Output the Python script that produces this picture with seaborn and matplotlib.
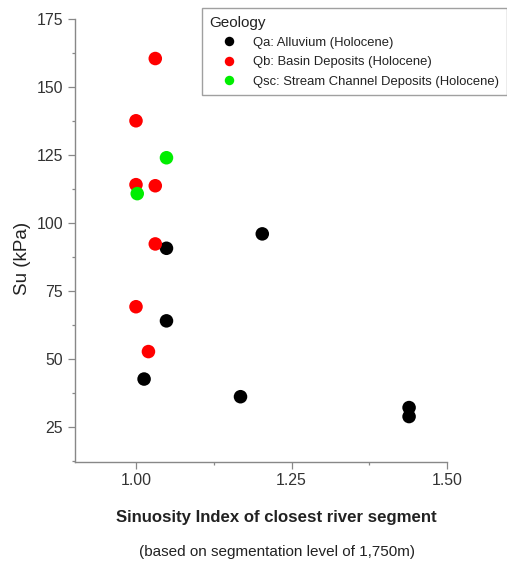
import matplotlib
matplotlib.use("Agg")
import matplotlib.pyplot as plt
from matplotlib.ticker import MultipleLocator, FormatStrFormatter
import seaborn as sns
import pandas as pd

# Sinuosity index and undrained shear strength per geologic unit
qa_si = [1.049, 1.203, 1.049, 1.013, 1.168, 1.439, 1.439]
qa_su = [90.7, 96.0, 64.0, 42.6, 36.1, 32.1, 28.8]
qb_si = [1.031, 1.000, 1.000, 1.031, 1.031, 1.000, 1.020]
qb_su = [160.5, 137.6, 114.1, 113.7, 92.3, 69.2, 52.7]
qsc_si = [1.049, 1.002]
qsc_su = [124.0, 110.8]

units = ["Qa: Alluvium (Holocene)",
         "Qb: Basin Deposits (Holocene)",
         "Qsc: Stream Channel Deposits (Holocene)"]
colors = ["#000000", "#ff0000", "#00ee00"]

df = pd.DataFrame({
    "si": qa_si + qb_si + qsc_si,
    "su": qa_su + qb_su + qsc_su,
    "Geology": [units[0]] * len(qa_si) + [units[1]] * len(qb_si) + [units[2]] * len(qsc_si),
})

sns.set_theme(style="ticks")
plt.rcParams["font.family"] = ["Liberation Sans", "DejaVu Sans"]

fig = plt.figure(figsize=(5.07, 5.62), dpi=100)
ax = fig.add_axes([0.148, 0.1785, 0.7337, 0.7875])

sns.scatterplot(data=df, x="si", y="su", hue="Geology", hue_order=units,
                palette=colors, s=95, linewidth=0, ax=ax, legend=True)

ax.set_xlim(0.902, 1.5)
ax.set_ylim(12.2, 175)
ax.xaxis.set_major_locator(MultipleLocator(0.25))
ax.xaxis.set_minor_locator(MultipleLocator(0.125))
ax.yaxis.set_major_locator(MultipleLocator(25))
ax.yaxis.set_minor_locator(MultipleLocator(12.5))
ax.xaxis.set_major_formatter(FormatStrFormatter("%.2f"))

for side in ("top", "right"):
    ax.spines[side].set_visible(False)
for side in ("left", "bottom"):
    ax.spines[side].set_color("#888888")
    ax.spines[side].set_linewidth(1.0)
ax.tick_params(which="major", length=5, width=0.9, color="#888888",
               labelsize=11.4, labelcolor="#333333", pad=3.5)
ax.tick_params(which="minor", length=2.5, width=0.9, color="#888888")

ax.set_xlabel("Sinuosity Index of closest river segment", fontsize=12.1,
              fontweight="bold", color="#222222", va="center")
ax.xaxis.set_label_coords(0.5417, -0.127)
ax.set_ylabel("Su (kPa)", fontsize=13.5, color="#222222", va="center")
ax.yaxis.set_label_coords(-0.142, 0.46)
fig.text(0.5454, 0.0178, "(based on segmentation level of 1,750m)",
         ha="center", va="center", fontsize=11, color="#222222")

handles, labels = ax.get_legend_handles_labels()
leg = ax.legend(handles, labels, title="Geology", loc="upper left",
                bbox_to_anchor=(0.398, 0.986, 0.0, 0.0), bbox_transform=fig.transFigure,
                fontsize=9.4, title_fontsize=11, frameon=True, fancybox=False,
                markerscale=0.7, handletextpad=0.35, labelspacing=0.55,
                borderpad=0.6, handlelength=3.0, borderaxespad=0)
leg._legend_box.align = "left"
leg.get_frame().set_edgecolor("#888888")
leg.get_frame().set_linewidth(1.0)
leg.get_title().set_color("#222222")
for t in leg.get_texts():
    t.set_color("#222222")

fig.savefig("out.png", dpi=100)
